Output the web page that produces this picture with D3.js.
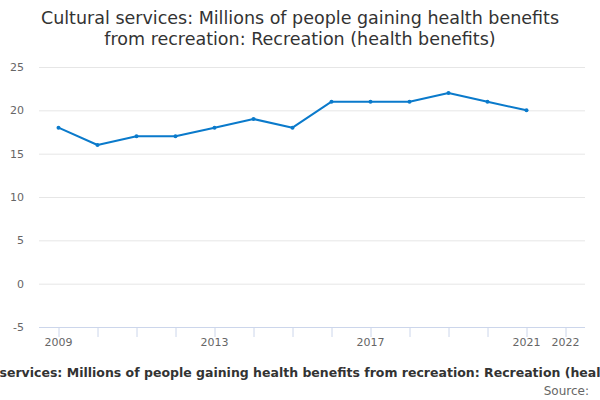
<!DOCTYPE html>
<html>
<head>
<meta charset="utf-8">
<script src="https://cdn.jsdelivr.net/npm/d3@7"></script>
<style>
  body { margin: 0; background: #fff; }
  svg { font-family: "DejaVu Sans", sans-serif; display: block; }
</style>
</head>
<body>
<svg id="chart" width="600" height="400"></svg>
<script>
// data
const years = [2009, 2010, 2011, 2012, 2013, 2014, 2015, 2016, 2017, 2018, 2019, 2020, 2021];
const values = [18, 16, 17, 17, 18, 19, 18, 21, 21, 21, 22, 21, 20];
const yTicks = [-5, 0, 5, 10, 15, 20, 25];
const xTickYears = [2009, 2010, 2011, 2012, 2013, 2014, 2015, 2016, 2017, 2018, 2019, 2020, 2021, 2022];
const xLabelYears = [2009, 2013, 2017, 2021, 2022];
const titleLines = ["Cultural services: Millions of people gaining health benefits",
                    "from recreation: Recreation (health benefits)"];
const caption = "Cultural services: Millions of people gaining health benefits from recreation: Recreation (health benefits)";

const svg = d3.select("#chart");

const x = d3.scaleLinear().domain([2008.5, 2022.5]).range([39, 585]);
const y = d3.scaleLinear().domain([-5, 25]).range([327, 67]);

// title
svg.append("text")
    .attr("x", 300)
    .attr("text-anchor", "middle")
    .attr("fill", "#333")
    .style("font-size", "17.5px")
  .selectAll("tspan")
  .data(titleLines)
  .join("tspan")
    .attr("x", 300)
    .attr("y", (d, i) => 24 + i * 21)
    .text(d => d);

// gridlines
svg.append("g")
  .selectAll("line")
  .data(yTicks.filter(d => d !== -5))
  .join("line")
    .attr("x1", 39)
    .attr("x2", 585)
    .attr("y1", d => y(d) + 0.5)
    .attr("y2", d => y(d) + 0.5)
    .attr("stroke", "#e6e6e6");

// y labels
svg.append("g")
  .selectAll("text")
  .data(yTicks)
  .join("text")
    .attr("x", 24)
    .attr("y", d => y(d) + 4)
    .attr("text-anchor", "end")
    .attr("fill", "#666")
    .style("font-size", "11px")
    .text(d => d);

// x axis line and ticks
svg.append("line")
    .attr("x1", 39)
    .attr("x2", 585)
    .attr("y1", 327.5)
    .attr("y2", 327.5)
    .attr("stroke", "#ccd6eb");

svg.append("g")
  .selectAll("line")
  .data(xTickYears)
  .join("line")
    .attr("x1", d => x(d) + 0.5)
    .attr("x2", d => x(d) + 0.5)
    .attr("y1", 327)
    .attr("y2", 337)
    .attr("stroke", "#ccd6eb");

svg.append("g")
  .selectAll("text")
  .data(xLabelYears)
  .join("text")
    .attr("x", d => x(d))
    .attr("y", 346)
    .attr("text-anchor", "middle")
    .attr("fill", "#666")
    .style("font-size", "11px")
    .text(d => d);

// series
const line = d3.line()
    .x((d, i) => x(years[i]))
    .y(d => y(d));

svg.append("path")
    .datum(values)
    .attr("d", line)
    .attr("fill", "none")
    .attr("stroke", "#0a7acb")
    .attr("stroke-width", 2)
    .attr("stroke-linejoin", "round");

svg.append("g")
  .selectAll("circle")
  .data(values)
  .join("circle")
    .attr("cx", (d, i) => x(years[i]))
    .attr("cy", d => y(d))
    .attr("r", 2)
    .attr("fill", "#0a7acb");

// caption (overflows the frame like in the reference)
svg.append("text")
    .attr("x", 311)
    .attr("y", 377)
    .attr("text-anchor", "middle")
    .attr("fill", "#333")
    .style("font-size", "12.5px")
    .style("font-weight", "bold")
    .text(caption);

svg.append("text")
    .attr("x", 589)
    .attr("y", 395)
    .attr("text-anchor", "end")
    .attr("fill", "#666")
    .style("font-size", "12px")
    .text("Source:");
</script>
</body>
</html>
